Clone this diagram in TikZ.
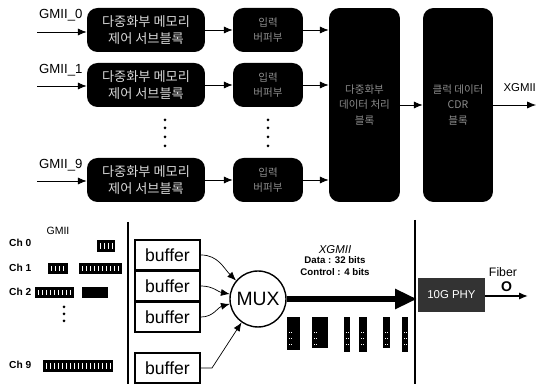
\documentclass[tikz,border=0pt]{standalone}
\usepackage{fontspec}
\setmainfont{Liberation Sans}
\newfontfamily\kr{Noto Sans CJK KR}
\usetikzlibrary{arrows.meta,positioning}

\tikzset{
  blk/.style={fill=black,rounded corners=6pt,align=center,inner sep=0pt,
    text=white!85!black,font=\kr\fontsize{7.5}{10}\selectfont},
  dimblk/.style={blk,text=black!45,font=\kr\fontsize{6}{9}\selectfont},
  lbl/.style={font=\fontsize{7.5}{9}\selectfont},
  chlbl/.style={font=\bfseries\fontsize{5.8}{7}\selectfont,anchor=west},
  arr/.style={-{Latex[length=5pt,width=4pt]}},
  buf/.style={draw,line width=1.3pt,minimum width=1.3cm,minimum height=0.6cm,
    inner sep=0pt,font=\fontsize{10}{11}\selectfont},
  pkt/.style={fill=black},
  bar/.style={fill=black}
}

\begin{document}
\begin{tikzpicture}[x=0.02cm,y=-0.02cm]
\useasboundingbox (0,0) rectangle (538,384);

% Top: memory control sub-blocks
\node[blk,minimum width=2.36cm,minimum height=0.88cm] (mc0) at (146,30) {다중화부 메모리\\제어 서브블록};
\node[blk,minimum width=2.36cm,minimum height=0.88cm] (mc1) at (146,85) {다중화부 메모리\\제어 서브블록};
\node[blk,minimum width=2.36cm,minimum height=0.88cm] (mc9) at (146,180) {다중화부 메모리\\제어 서브블록};

\node[dimblk,minimum width=1.4cm,minimum height=0.88cm] (buf0) at (268,30) {입력\\버퍼부};
\node[dimblk,minimum width=1.4cm,minimum height=0.88cm] (buf1) at (268,85) {입력\\버퍼부};
\node[dimblk,minimum width=1.4cm,minimum height=0.88cm] (buf9) at (268,180) {입력\\버퍼부};

\node[dimblk,minimum width=1.42cm,minimum height=3.88cm] (muxblk) at (364.5,105) {다중화부\\데이터 처리\\블록};
\node[dimblk,minimum width=1.4cm,minimum height=3.88cm] (cdr) at (458,105) {클럭 데이터\\CDR\\블록};

% Inputs
\node[lbl,anchor=west] (g0) at (33,15) {GMII\_0};
\node[lbl,anchor=west] (g1) at (33,70) {GMII\_1};
\node[lbl,anchor=west] (g9) at (33,165) {GMII\_9};
\coordinate (in0) at (37,32);
\coordinate (in1) at (37,86);
\coordinate (in9) at (37,181);
\draw[arr] (in0) -- (in0 -| mc0.west);
\draw[arr] (in1) -- (in1 -| mc1.west);
\draw[arr] (in9) -- (in9 -| mc9.west);

\draw[arr] (mc0) -- (buf0);
\draw[arr] (mc1) -- (buf1);
\draw[arr] (mc9) -- (buf9);
\draw[arr] (buf0.east) -- (buf0.east -| muxblk.west);
\draw[arr] (buf1.east) -- (buf1.east -| muxblk.west);
\draw[arr] (buf9.east) -- (buf9.east -| muxblk.west);
\draw[arr] (muxblk) -- (cdr);

\node[font=\fontsize{6.5}{8}\selectfont,anchor=east,inner xsep=1pt] (xg) at (538,88) {XGMII};
\coordinate (xout) at (536,105);
\draw[arr] (cdr) -- (xout);

% Dots
\foreach \y in {120,128,137,146} {
  \fill (165,\y) circle (1.5);
  \fill (268,\y) circle (1.5);
}

% Bottom: GMII channels
\node[font=\fontsize{6}{7}\selectfont] (gmii) at (58,231) {GMII};
\node[chlbl] (ch0) at (3,243) {Ch 0};
\node[chlbl] (ch1) at (3,268) {Ch 1};
\node[chlbl] (ch2) at (3,292) {Ch 2};
\node[chlbl] (ch9) at (3,365) {Ch 9};

\fill[pkt] (97,240) rectangle (115,252);
\fill[pkt] (48,263) rectangle (68,274);
\fill[pkt] (79,263) rectangle (122,274);
\fill[pkt] (35,287) rectangle (74,298);
\fill[pkt] (82,287) rectangle (108,298);
\fill[pkt] (43,360) rectangle (113,372);
\foreach \x in {100,104,...,112} \draw[white,line width=0.5pt] (\x,243) -- (\x,249);
\foreach \x in {51,55,...,65,82,86,...,118} \draw[white,line width=0.5pt] (\x,266) -- (\x,271);
\foreach \x in {38,42,...,72} \draw[white,line width=0.5pt] (\x,290) -- (\x,295);
\foreach \x in {46,50,...,110} \draw[white,line width=0.5pt] (\x,363) -- (\x,369);

\foreach \y in {307,314,321} \fill (64,\y) circle (1.5);

% Separators
\draw[thick] (128,222) -- (128,384);
\draw[thick] (415,220) -- (415,384);

% Buffers and MUX
\node[buf] (b1) at (167.5,255) {buffer};
\node[buf] (b2) at (167.5,286) {buffer};
\node[buf] (b3) at (167.5,317) {buffer};
\node[buf] (b9) at (167.5,368) {buffer};
\node[draw,thick,circle,minimum size=1.12cm,inner sep=0pt,font=\fontsize{11}{12}\selectfont] (mux) at (258,299) {MUX};

\draw[arr] (b1.east) to[out=0,in=135] (mux.140);
\draw[arr] (b2.east) to[out=0,in=170] (mux.170);
\draw[arr] (b3.east) to[out=0,in=195] (mux.190);
\draw[arr] (b9.east) -- (212,368) -- (mux.235);

% XGMII link
\coordinate (xlink) at (417,299);
\draw[line width=3.5pt,-{Triangle[length=0.44cm,width=0.38cm]}] (mux.east) -- (xlink);
\node[font=\itshape\fontsize{6.5}{8}\selectfont] (xgmii) at (335,250) {XGMII};
\node[font=\bfseries\fontsize{5.5}{7}\selectfont,align=center] (xinfo) at (335,266) {Data : 32 bits\\Control : 4 bits};

\foreach \xa/\xb/\yb in {287/300/350,312/328/348,344/350/352,359/367/352,383/390/348,402/408/352} {
  \fill[bar] (\xa,317) rectangle (\xb,\yb);
  \foreach \yy in {332,338,344} \draw[white,line width=0.4pt,densely dotted] (\xa+2,\yy) -- (\xa+5,\yy);
}

% PHY and fiber
\node[fill=black!80,minimum width=1.34cm,minimum height=0.68cm,inner sep=0pt,
  text=white,font=\rmfamily\fontsize{6.5}{7}\selectfont] (phy) at (451.5,295) {10G PHY};
\node[font=\fontsize{7}{8}\selectfont] (fiber) at (503,272) {Fiber};
\coordinate (fout) at (528,296);
\draw[thick,arr] (phy.east |- fout) -- node[above=-1.5pt,font=\bfseries\fontsize{8}{9}\selectfont] {O} (fout);

\end{tikzpicture}
\end{document}
